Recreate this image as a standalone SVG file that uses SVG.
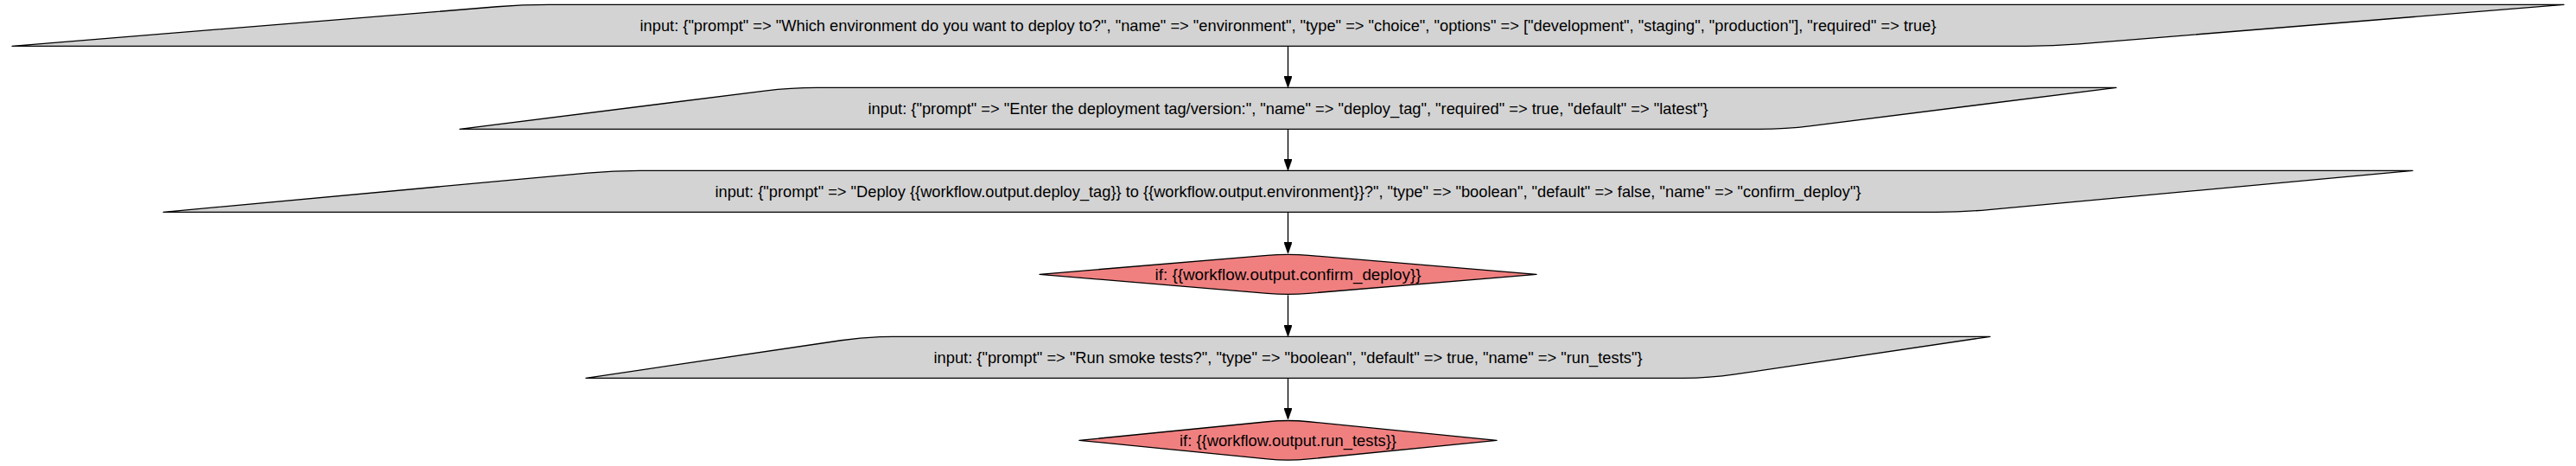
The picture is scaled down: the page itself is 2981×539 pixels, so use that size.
<svg xmlns="http://www.w3.org/2000/svg" width="2981" height="539" viewBox="0 0 2981 539">
<style>
.bg{fill:#ffffff}
.para{fill:#d3d3d3;stroke:#000000;stroke-width:1.33;stroke-linejoin:round}
.dia{fill:#f08080;stroke:#000000;stroke-width:1.33;stroke-linejoin:round}
.lbl{font-family:"Liberation Sans",Arial,Helvetica,sans-serif;font-size:18.67px;fill:#000000;text-anchor:middle}
.edge{fill:none;stroke:#000000;stroke-width:1.33}
</style>
<defs>
<marker id="arr" viewBox="0 0 10 7" refX="0" refY="3.5" markerWidth="13.33" markerHeight="9.33" markerUnits="userSpaceOnUse" orient="auto">
<path d="M0,0 L10,3.5 L0,7 Z" fill="#000000" stroke="#000000" stroke-width="0.5"/>
</marker>
</defs>
<rect class="bg" x="0" y="0" width="2981" height="539"/>
<g id="edges">
<path class="edge" d="M1490.5,53.33 L1490.5,88" marker-end="url(#arr)"/>
<path class="edge" d="M1490.5,149.33 L1490.5,184" marker-end="url(#arr)"/>
<path class="edge" d="M1490.5,245.33 L1490.5,280" marker-end="url(#arr)"/>
<path class="edge" d="M1490.5,341.33 L1490.5,376" marker-end="url(#arr)"/>
<path class="edge" d="M1490.5,437.33 L1490.5,472" marker-end="url(#arr)"/>
</g>
<g id="node1">
<path class="para" d="M14,53.33 L575,7.77 Q605,5.33 635,5.33 L2967,5.33 L2406,50.89 Q2376,53.33 2346,53.33 Z"/>
<text class="lbl" x="1490.5" y="35.8" textLength="1500" lengthAdjust="spacingAndGlyphs">input: {"prompt" =&gt; "Which environment do you want to deploy to?", "name" =&gt; "environment", "type" =&gt; "choice", "options" =&gt; ["development", "staging", "production"], "required" =&gt; true}</text>
</g>
<g id="node2">
<path class="para" d="M532,149.33 L885,105.09 Q915,101.33 945,101.33 L2449,101.33 L2096,145.57 Q2066,149.33 2036,149.33 Z"/>
<text class="lbl" x="1490.5" y="131.8" textLength="972" lengthAdjust="spacingAndGlyphs">input: {"prompt" =&gt; "Enter the deployment tag/version:", "name" =&gt; "deploy_tag", "required" =&gt; true, "default" =&gt; "latest"}</text>
</g>
<g id="node3">
<path class="para" d="M189,245.33 L680,200.09 Q710,197.33 740,197.33 L2792,197.33 L2301,242.57 Q2271,245.33 2241,245.33 Z"/>
<text class="lbl" x="1490.5" y="227.8" textLength="1326" lengthAdjust="spacingAndGlyphs">input: {"prompt" =&gt; "Deploy {{workflow.output.deploy_tag}} to {{workflow.output.environment}}?", "type" =&gt; "boolean", "default" =&gt; false, "name" =&gt; "confirm_deploy"}</text>
</g>
<g id="node4">
<path class="dia" d="M1203,317.33 L1466.6,295.33 Q1490.5,293.33 1514.4,295.33 L1778,317.33 L1514.4,339.33 Q1490.5,341.33 1466.6,339.33 Z"/>
<text class="lbl" x="1490.5" y="323.8" textLength="308" lengthAdjust="spacingAndGlyphs">if: {{workflow.output.confirm_deploy}}</text>
</g>
<g id="node5">
<path class="para" d="M678,437.33 L973,393.76 Q1003,389.33 1033,389.33 L2303,389.33 L2008,432.9 Q1978,437.33 1948,437.33 Z"/>
<text class="lbl" x="1490.5" y="419.8" textLength="820" lengthAdjust="spacingAndGlyphs">input: {"prompt" =&gt; "Run smoke tests?", "type" =&gt; "boolean", "default" =&gt; true, "name" =&gt; "run_tests"}</text>
</g>
<g id="node6">
<path class="dia" d="M1249,509.33 L1466.5,487.72 Q1490.5,485.33 1514.5,487.72 L1732,509.33 L1514.5,530.94 Q1490.5,533.33 1466.5,530.94 Z"/>
<text class="lbl" x="1490.5" y="515.8" textLength="251" lengthAdjust="spacingAndGlyphs">if: {{workflow.output.run_tests}}</text>
</g>
</svg>
